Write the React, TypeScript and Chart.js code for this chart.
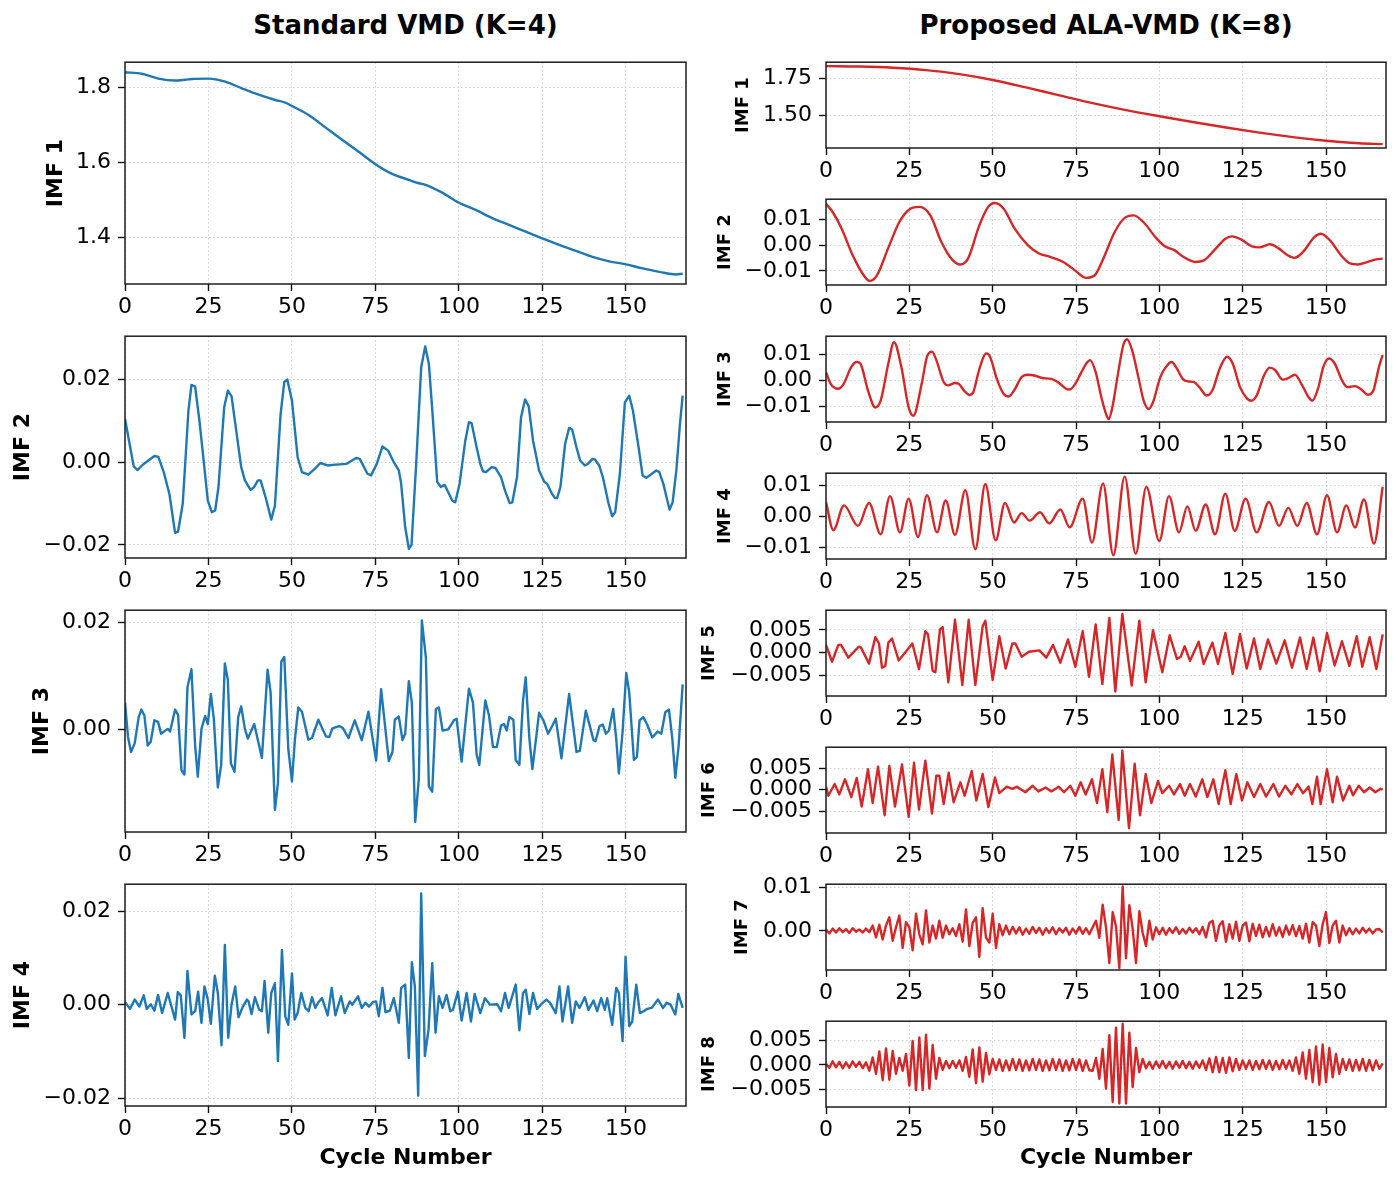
import React, { useEffect, useRef } from 'react';
import { Chart, registerables } from 'chart.js';

Chart.register(...registerables);

const FONT = "'DejaVu Sans', 'Noto Sans', sans-serif";
const BLUE = '#1f77b4';
const RED = '#d62728';

const LEFT_TITLE = 'Standard VMD (K=4)';
const RIGHT_TITLE = 'Proposed ALA-VMD (K=8)';
const X_TITLE = 'Cycle Number';

const X_TICKS = [0, 25, 50, 75, 100, 125, 150];
const X_MIN = 0;
const X_MAX = 168;

// ---------- Standard VMD (K=4) : [cycle, value] ----------
const L1: [number, number][] = [
  [0, 1.84], [5, 1.836], [10, 1.823], [15, 1.818], [18, 1.82], [20, 1.822], [25, 1.823], [30, 1.815],
  [35, 1.797], [40, 1.78], [45, 1.766], [48, 1.759], [50, 1.75], [55, 1.726], [60, 1.693], [65, 1.66],
  [70, 1.628], [75, 1.595], [80, 1.569], [85, 1.553], [88, 1.544], [90, 1.54], [95, 1.519], [100, 1.492],
  [105, 1.473], [110, 1.451], [115, 1.433], [120, 1.415], [125, 1.397], [130, 1.38], [135, 1.364],
  [140, 1.348], [145, 1.336], [150, 1.328], [155, 1.317], [160, 1.308], [165, 1.301], [167, 1.303],
];

const L2: [number, number][] = [
  [0, 0.0105], [2.6, -0.001], [3.7, -0.0019], [5.5, -0.0005], [8.8, 0.0015], [10, 0.0013], [11.6, -0.0024],
  [13.3, -0.0077], [15, -0.0171], [15.9, -0.0168], [17.3, -0.01], [19, 0.0125], [19.9, 0.0187], [21, 0.0183],
  [22.3, 0.01], [24.8, -0.0093], [26, -0.0121], [27, -0.0117], [28, -0.006], [29.7, 0.0133], [30.8, 0.0173],
  [31.9, 0.016], [34.8, -0.0012], [35.9, -0.0044], [37.6, -0.0067], [38.7, -0.006], [39.8, -0.0044],
  [40.6, -0.0044], [42.1, -0.0085], [43.8, -0.0139], [44.9, -0.0105], [46.6, 0.0117], [47.7, 0.0194],
  [48.6, 0.02], [50, 0.0149], [51.7, 0.0012], [53, -0.0024], [54.9, -0.003], [56.8, -0.0016], [58.5, -0.0002],
  [60.7, -0.0008], [63, -0.0006], [66.4, -0.0004], [69.2, 0.001], [70.3, 0.0008], [72.6, -0.0028],
  [73.7, -0.0032], [75.4, -0.0004], [77.1, 0.0038], [78.8, 0.0028], [80.5, 0.0], [82, -0.002], [82.7, -0.0052],
  [83.9, -0.0157], [85, -0.021], [85.8, -0.02], [87.2, -0.0004], [88.7, 0.023], [89.9, 0.028], [91, 0.0238],
  [92.1, 0.0117], [93.5, -0.0048], [94.6, -0.006], [95.7, -0.0055], [96.8, -0.0073], [98, -0.0093],
  [98.9, -0.0097], [100.2, -0.0052], [101.9, 0.0052], [103, 0.0097], [103.8, 0.0094], [105.3, 0.0036],
  [106.4, -0.0004], [107.2, -0.0022], [108.1, -0.0024], [109.8, -0.0012], [110.9, -0.0014], [112.6, -0.0036],
  [113.8, -0.0069], [115.2, -0.0099], [116, -0.0097], [117.4, -0.0036], [118.6, 0.0109], [119.8, 0.0152],
  [120.9, 0.0135], [122.2, 0.0052], [124, -0.002], [125.6, -0.0048], [126.4, -0.0052], [127.9, -0.0077],
  [128.8, -0.0087], [129.4, -0.0087], [130.4, -0.006], [131.8, 0.0044], [133, 0.0083], [133.9, 0.0079],
  [135.2, 0.0036], [136.3, 0.0004], [137.7, -0.0008], [138.6, -0.0004], [140, 0.0008], [140.8, 0.0006],
  [142, -0.0008], [143.1, -0.0036], [144.8, -0.01], [145.9, -0.0131], [146.8, -0.0121], [148.2, -0.0028],
  [149.7, 0.0145], [151, 0.0161], [152.1, 0.0125], [153.8, 0.0036], [155, -0.0032], [156.1, -0.0038],
  [157.8, -0.0028], [159.1, -0.002], [160, -0.0024], [161.2, -0.0052], [162.3, -0.0089], [163.1, -0.0115],
  [164, -0.0097], [165.1, -0.002], [166.2, 0.0093], [167, 0.0161],
];

const L3: [number, number][] = [
  [0, 0.005], [0.9, -0.0014], [1.8, -0.0042], [2.9, -0.0026], [4.1, 0.0023], [4.9, 0.0037], [5.8, 0.0026],
  [6.8, -0.003], [7.7, -0.0023], [8.8, 0.0017], [9.9, 0.0014], [10.8, -0.0008], [12.8, 0.0001], [13.5, -0.0004],
  [15, 0.0037], [15.9, 0.0027], [16.9, -0.0076], [17.8, -0.0084], [18.7, 0.0078], [19.9, 0.0112], [21, -0.003],
  [21.8, -0.0088], [22.9, 0.0001], [24, 0.0025], [24.8, 0.001], [25.7, 0.0066], [26.6, 0.002], [27.8, -0.0108],
  [28.8, -0.0066], [29.9, 0.0123], [30.8, 0.0092], [31.7, -0.0063], [32.8, -0.0079], [33.9, 0.0023],
  [34.8, 0.0043], [35.9, 0.0001], [36.8, -0.0017], [38.7, 0.001], [39.8, -0.002], [41, -0.0053], [42.7, 0.0111],
  [43.6, 0.0069], [44.9, -0.015], [45.8, -0.01], [46.8, 0.0126], [47.7, 0.0135], [48.9, -0.0036], [50, -0.0097],
  [50.9, -0.0017], [51.9, 0.0041], [53, 0.0033], [54.9, -0.0019], [56, -0.0016], [57.9, 0.0018], [60.2, -0.0013],
  [61.2, -0.0014], [62.1, 0.0002], [64.1, 0.0006], [65.2, 0.0003], [66.9, -0.0016], [68.8, 0.0017],
  [70.9, -0.002], [72.9, 0.0033], [75.2, -0.0058], [76.7, 0.0075], [79, -0.0059], [80.1, -0.0042],
  [80.8, 0.0018], [82, 0.0024], [83.1, -0.002], [83.9, -0.0008], [85, 0.009], [85.9, 0.005], [86.9, -0.0172],
  [88, -0.0091], [88.9, 0.0203], [90.1, 0.0134], [91, -0.0106], [92, -0.0116], [93.1, 0.0038], [94, 0.0041],
  [95.1, -0.0002], [96.8, 0.0], [98.5, 0.0017], [99.3, 0.002], [100.8, -0.006], [103, 0.0076], [104.2, 0.005],
  [105.3, -0.0047], [106.1, -0.0066], [107.9, 0.0054], [109, 0.0026], [110.2, -0.0033], [111.3, -0.0033],
  [112.6, 0.0007], [113.5, 0.001], [114.3, -0.0002], [115.1, 0.0023], [116.3, 0.0018], [117, -0.0057],
  [118.1, -0.0066], [119.2, 0.0054], [120, 0.0097], [121.1, -0.0017], [122, -0.0074], [124, 0.0031],
  [125.3, 0.0017], [126.7, -0.0008], [127.9, 0.0006], [129, 0.002], [130.7, -0.0054], [133, 0.0066],
  [135.2, -0.0042], [136.2, -0.004], [138, 0.0035], [140.3, -0.002], [140.9, -0.0022], [142.1, 0.0006],
  [143.1, 0.0009], [144, -0.0008], [144.9, -0.0002], [146.2, 0.0038], [147.1, -0.0017], [147.9, -0.0082],
  [149, -0.0005], [150.1, 0.0105], [151, 0.0069], [152.4, -0.0057], [153.3, -0.0051], [154.1, 0.0017],
  [155.2, 0.0023], [156.3, 0.001], [157.9, -0.0015], [159.5, -0.0004], [160.6, -0.0008], [161.8, 0.0032],
  [162.9, 0.0037], [163.9, -0.0017], [164.8, -0.009], [165.8, -0.003], [167, 0.0084],
];

const L4: [number, number][] = [
  [0, 0.0006], [1.5, -0.0009], [2.9, 0.0011], [4.3, -0.0004], [5.6, 0.002], [6.5, -0.0009], [7.7, 0.0001],
  [8.8, -0.0013], [9.9, 0.0021], [11.1, -0.0018], [12.8, 0.0025], [15, -0.0032], [15.8, 0.0027], [16.7, 0.002],
  [17.8, -0.0071], [18.7, 0.0072], [19.9, -0.0021], [21, -0.0014], [21.9, 0.0028], [22.9, -0.0039],
  [23.8, 0.0039], [24.8, 0.0011], [25.7, -0.0041], [26.9, 0.0062], [27.8, 0.0025], [28.9, -0.0087],
  [29.9, 0.0128], [30.9, -0.0071], [31.9, 0.0], [33, 0.0039], [34, -0.0027], [35.3, -0.0004], [36.5, 0.0011],
  [37, 0.0007], [37.9, -0.002], [38.9, 0.0016], [40.2, -0.0011], [41, -0.0014], [41.8, 0.0051], [42.9, -0.006],
  [43.8, 0.0025], [44.9, 0.0046], [45.8, -0.0121], [47, 0.0117], [48, -0.0025], [48.9, -0.0043], [50, 0.0067],
  [50.8, -0.0032], [51.7, -0.0018], [52.8, 0.0025], [54, -0.0007], [55, -0.0014], [56, 0.0016], [57, -0.0007],
  [57.8, 0.0004], [59, 0.0014], [60.7, -0.0023], [61.9, 0.0036], [63, -0.0023], [64.7, 0.0018],
  [65.8, -0.0018], [67.3, 0.0007], [68.1, 0.0], [69.8, 0.0018], [70.9, -0.0007], [72, 0.0004], [73.1, -0.0004],
  [74.3, 0.0006], [75.2, 0.0007], [76, -0.0025], [77.1, 0.0036], [78, -0.0016], [79.3, -0.0013], [80.5, 0.0014],
  [82, -0.0039], [82.7, 0.0036], [83.9, 0.0043], [85, -0.0114], [85.9, 0.0091], [86.8, 0.0039],
  [87.8, -0.0195], [88.7, 0.0238], [89.8, -0.011], [90.9, -0.0053], [92, 0.0089], [93, -0.006], [94, 0.0018],
  [95.1, -0.0007], [96.3, 0.0021], [97.4, -0.0014], [98.2, -0.0011], [99.7, 0.0028], [100.8, -0.0034],
  [102.3, 0.0025], [103.6, -0.0036], [104.7, 0.0023], [106.4, -0.0018], [107.8, 0.0014], [109.3, 0.0],
  [111.5, 0.0001], [112.6, -0.0014], [113.8, 0.0025], [114.9, -0.0007], [117, 0.0043], [118.1, -0.0055],
  [119.2, 0.0025], [120, 0.0032], [121.1, -0.002], [122.2, 0.0025], [123.4, -0.0009], [124.5, 0.0],
  [126.2, 0.0011], [127.3, 0.0004], [129, -0.0018], [130.1, 0.0039], [131, -0.0036], [132.7, 0.0039],
  [133.9, -0.0039], [135, 0.0007], [136.1, -0.0007], [137.7, 0.0016], [138.8, -0.0011], [140.3, 0.0009],
  [141.4, -0.0014], [142.6, 0.0014], [143.7, -0.0011], [144.4, 0.0014], [145.9, -0.0043], [147.1, 0.0036],
  [147.9, 0.0025], [149, -0.0078], [149.9, 0.0103], [151, -0.0046], [151.9, -0.0036], [153.1, 0.0043],
  [154.2, -0.0018], [155.3, -0.0014], [156.4, -0.0009], [157.7, -0.0007], [159.6, 0.0011], [161.1, -0.0007],
  [162.2, 0.0004], [163.4, 0.0], [164.8, -0.0021], [165.7, 0.0023], [167, -0.0007],
];

// ---------- Proposed ALA-VMD (K=8) : [cycle, value] ----------
const R1: [number, number][] = [
  [0, 1.833], [10, 1.83], [20, 1.822], [30, 1.806], [40, 1.779], [50, 1.74], [60, 1.69], [70, 1.637],
  [80, 1.585], [90, 1.538], [100, 1.497], [110, 1.458], [120, 1.421], [130, 1.387], [140, 1.357],
  [150, 1.333], [160, 1.316], [167, 1.31],
];

const R2: [number, number][] = [
  [0, 0.0162], [2, 0.013], [4.7, 0.0065], [8, -0.0039], [11.3, -0.0117], [13, -0.0139], [15.3, -0.0117],
  [18.6, -0.0013], [22, 0.0091], [25.3, 0.0143], [28, 0.015], [31.3, 0.0117], [34.6, 0.0013], [38, -0.0058],
  [40.3, -0.0075], [42.6, -0.0052], [46, 0.0078], [48.6, 0.0149], [50.6, 0.0165], [53.3, 0.0143],
  [56.6, 0.0065], [60.6, 0.0], [63.9, -0.0032], [67.2, -0.0045], [71.2, -0.0065], [74.6, -0.0097],
  [77.9, -0.0127], [80.6, -0.0117], [83.2, -0.0052], [86.6, 0.0052], [89.9, 0.011], [92.3, 0.0117],
  [95.2, 0.0091], [99.2, 0.0026], [101.9, -0.0006], [104.5, -0.0019], [107.2, -0.0045], [110.8, -0.0065],
  [113.2, -0.006], [116.5, -0.0019], [119.8, 0.0026], [121.8, 0.0035], [124.5, 0.0023], [127.8, -0.0004],
  [130, -0.0008], [133.2, 0.0004], [135.9, -0.0013], [138.5, -0.0039], [140.5, -0.0049], [143.1, -0.0026],
  [146.5, 0.0032], [148.5, 0.0045], [151.2, 0.0019], [154.5, -0.0039], [157.2, -0.0071], [159.6, -0.0075],
  [162.5, -0.0065], [165.1, -0.0055], [167, -0.0052],
];

const R3: [number, number][] = [
  [0, 0.0032], [1.4, -0.0013], [3.7, -0.0032], [5.3, -0.0013], [7.6, 0.0052], [9.2, 0.0071], [10.3, 0.0065],
  [12.6, -0.0039], [14.8, -0.0104], [16.4, -0.0078], [18.7, 0.0065], [20.4, 0.0147], [22.6, 0.0052],
  [24.8, -0.0104], [26.2, -0.0136], [28.7, -0.0013], [30.3, 0.0091], [31.8, 0.011], [33.1, 0.0078],
  [35.3, -0.0006], [36.7, -0.0019], [38.7, -0.001], [39.8, -0.0013], [41.4, -0.0039], [43.1, -0.0056],
  [44.2, -0.0045], [45.9, 0.0039], [48.1, 0.0104], [49.2, 0.0091], [51.4, 0.0], [53.3, -0.0052],
  [54.8, -0.0062], [56.4, -0.0039], [58.7, 0.0013], [60.3, 0.0022], [62.6, 0.0019], [64.8, 0.0009],
  [67.6, 0.0006], [69.8, -0.0009], [72, -0.0032], [73.1, -0.0035], [74.8, -0.0013], [76.4, 0.0026],
  [78.1, 0.0065], [79.2, 0.0078], [80.9, 0.0032], [82.6, -0.0065], [84.2, -0.0136], [84.8, -0.0149],
  [85.9, -0.0104], [87.6, 0.0026], [89.2, 0.0136], [90.3, 0.0158], [91.8, 0.0117], [93.7, 0.0013],
  [95.3, -0.0078], [96.8, -0.011], [98.1, -0.0084], [100.3, 0.0013], [102, 0.0052], [103.7, 0.0071],
  [105.3, 0.0045], [107, 0.0006], [108.7, -0.0004], [110.3, -0.0006], [112, -0.0026], [114.2, -0.0058],
  [115.9, -0.0039], [118.1, 0.0045], [120.3, 0.0091], [122, 0.0065], [124.2, -0.0026], [126.4, -0.0071],
  [127.6, -0.0078], [129.2, -0.0058], [131.4, 0.0019], [133.1, 0.0049], [134.8, 0.0039], [137, 0.0003],
  [138.7, 0.0009], [140.7, 0.0022], [142.6, -0.0013], [144.8, -0.0065], [145.9, -0.0078], [147.6, -0.0032],
  [149.2, 0.0052], [150.9, 0.0084], [152.6, 0.0065], [154.8, 0.0], [156.4, -0.0026], [158.7, -0.0022],
  [160.3, -0.0032], [162.6, -0.0055], [164.2, -0.0039], [165.9, 0.0052], [167, 0.0097],
];

const R4: [number, number][] = [
  [0, 0.0047], [2.2, -0.0044], [5.4, 0.0036], [9.6, -0.003], [12.9, 0.0044], [16.4, -0.0057], [19.2, 0.0066],
  [22.2, -0.0051], [24.8, 0.0058], [27.6, -0.0066], [30.3, 0.0069], [33.3, -0.0051], [35.9, 0.0052],
  [38.7, -0.0059], [41.8, 0.0085], [44.8, -0.0106], [47.8, 0.0105], [50.9, -0.0077], [53.7, 0.0044],
  [56.4, -0.0019], [58.7, 0.0011], [61.1, -0.0013], [64.2, 0.0014], [67, -0.0022], [70.3, 0.0023],
  [73.1, -0.0035], [77, 0.0058], [79.8, -0.0084], [83.1, 0.0107], [86.2, -0.0125], [89.6, 0.0129],
  [92.9, -0.012], [96.1, 0.0096], [100, -0.0079], [102.9, 0.0066], [105.9, -0.0051], [108.4, 0.0033],
  [110.9, -0.0046], [113.9, 0.0039], [116.7, -0.0057], [119.8, 0.0074], [122.6, -0.0046], [125.9, 0.0058],
  [129.2, -0.0051], [132.9, 0.0047], [135.9, -0.003], [138.7, 0.0028], [141.4, -0.003], [144.2, 0.0044],
  [147.3, -0.0057], [150.3, 0.0069], [153.3, -0.0051], [156.1, 0.0036], [158.7, -0.0035], [161.4, 0.0055],
  [164.4, -0.0087], [167, 0.0096],
];

const R5: [number, number][] = [
  [0, 0.0017], [1.8, -0.002], [3.7, 0.0017], [4.5, 0.0017], [6.7, -0.0011], [9.8, 0.0013], [10.5, 0.0011],
  [12.9, -0.0024], [14.8, 0.0034], [15.9, 0.002], [16.8, -0.0033], [17.8, -0.0029], [18.7, 0.0022],
  [19.8, 0.0031], [21.8, -0.0017], [23.7, 0.0], [25.9, 0.002], [27.9, -0.0036], [29.8, 0.0047], [30.6, 0.004],
  [32, -0.004], [32.8, -0.0043], [34.2, 0.0051], [35, 0.0056], [36.7, -0.0065], [38.7, 0.0072], [40.9, -0.0071],
  [42.8, 0.0072], [44.8, -0.0071], [47, 0.0058], [47.8, 0.007], [50, -0.006], [52, 0.0036], [53.9, -0.0035],
  [55.9, 0.002], [56.8, 0.002], [58.7, -0.0009], [60.9, 0.0002], [64, 0.0005], [66.1, -0.0011], [68.1, 0.0017],
  [70.3, -0.0022], [72.6, 0.0029], [74.8, -0.0031], [77, 0.0047], [78.9, -0.0053], [80.9, 0.0062],
  [82.9, -0.0069], [85, 0.0076], [86.8, -0.0085], [88.9, 0.0085], [91.7, -0.0072], [94, 0.007],
  [95.9, -0.0065], [98.1, 0.0049], [100.9, -0.0043], [103.1, 0.0038], [105.3, -0.0014], [106.4, -0.0009],
  [107.6, 0.0014], [109.2, -0.0018], [111.8, 0.0024], [113.3, -0.0025], [115.9, 0.0022], [117.6, -0.0025],
  [119.8, 0.0043], [122, -0.0047], [124.2, 0.0041], [126.2, -0.0035], [128.4, 0.0031], [130.3, -0.0036],
  [132.6, 0.0029], [135.1, -0.0024], [137.6, 0.0027], [139.8, -0.0033], [142.2, 0.0033], [144.2, -0.0036],
  [146.2, 0.0033], [148.1, -0.0041], [150.3, 0.0043], [152.6, -0.0028], [154.8, 0.0025], [157, -0.0029],
  [159.2, 0.0036], [160.9, -0.0031], [163.1, 0.0034], [165.1, -0.0036], [167, 0.004],
];

const R6: [number, number][] = [
  [0, 0.0007], [0.7, -0.0014], [2.6, 0.0013], [4, -0.0011], [5.7, 0.0024], [7.6, -0.0017], [9.2, 0.0027],
  [10.7, -0.0039], [12.6, 0.0047], [14, -0.0031], [15.6, 0.0053], [17.6, -0.0059], [19, 0.0055],
  [20.7, -0.0039], [22.8, 0.0058], [24.8, -0.0063], [26.4, 0.0062], [27.9, -0.0046], [29.8, 0.0067],
  [31.8, -0.0055], [33.1, 0.0032], [34, 0.0032], [35.3, -0.0033], [36.8, 0.0039], [38.3, -0.0029],
  [40.3, 0.0017], [41.6, -0.0014], [43.7, 0.0043], [45.1, -0.0025], [47, 0.0036], [48.7, -0.004],
  [50.7, 0.0028], [52, -0.0008], [54.2, 0.0007], [55.9, 0.0002], [57.3, 0.0007], [59.8, -0.0006],
  [62, 0.0009], [63.7, -0.0004], [65.9, 0.0005], [67.6, -0.0004], [69.8, 0.0007], [71.4, -0.0006],
  [73.3, 0.0009], [74.8, -0.0014], [76.4, 0.0017], [77.9, -0.0011], [79.8, 0.0024], [81.3, -0.0031],
  [82.9, 0.0047], [84.4, -0.0052], [85.9, 0.0081], [87.8, -0.007], [88.9, 0.009], [90.9, -0.0089],
  [92.6, 0.006], [94.2, -0.0059], [95.9, 0.0036], [97.6, -0.0031], [99.6, 0.002], [100.9, -0.0008],
  [102.9, 0.0009], [104.4, -0.0011], [106.2, 0.0013], [107.6, -0.0014], [109.2, 0.0013], [110.9, -0.0016],
  [112.9, 0.0024], [114.4, -0.0017], [116.2, 0.0024], [117.8, -0.0033], [119.8, 0.0045], [121.4, -0.0033],
  [123.1, 0.0036], [124.8, -0.0025], [126.4, 0.0017], [128.4, -0.0017], [130.3, 0.0013], [132, -0.0016],
  [134.2, 0.0013], [135.9, -0.0016], [137.8, 0.0009], [139.6, -0.0011], [141.4, 0.0013], [143.1, -0.0008],
  [144.8, 0.0007], [145.9, -0.0033], [147.3, 0.003], [148.4, -0.0033], [150.3, 0.0047], [152, -0.0029],
  [153.3, 0.003], [155.1, -0.0025], [157, 0.0009], [158.1, -0.0013], [159.8, 0.0009], [161.4, -0.0006],
  [163.1, 0.0005], [164.8, -0.0006], [166.4, 0.0002], [167, 0.0],
];

// one value per cycle (0..167)
const R7_VALUES = [
  0.0003, -0.0006, 0.0005, -0.0004, 0.0006, -0.0003, 0.0004, -0.0005, 0.0006, -0.0002,
  0.0003, -0.0004, 0.0005, -0.0003, 0.0012, -0.0015, 0.0014, -0.002, 0.0012, 0.0031,
  -0.0023, 0.0008, 0.0035, -0.0039, 0.002, 0.0008, -0.0045, 0.0039, -0.0008, -0.0031,
  0.0047, -0.0027, 0.0012, -0.0018, 0.0023, -0.0016, 0.0012, -0.0008, 0.0006, -0.0012,
  0.0015, -0.0025, 0.0049, -0.0035, 0.0018, 0.0031, -0.006, 0.0052, -0.0015, -0.0027,
  0.0039, -0.0039, 0.0015, -0.001, 0.0012, -0.0008, 0.0009, -0.0006, 0.0008, -0.0009,
  0.0005, -0.0007, 0.0009, -0.0005, 0.0007, -0.0009, 0.0006, -0.0005, 0.0008, -0.0008,
  0.0006, -0.0004, 0.0007, -0.0009, 0.0005, -0.0006, 0.0009, -0.0007, 0.0006, -0.0008,
  0.0008, 0.0023, -0.0016, 0.006, 0.0008, -0.0074, 0.0043, 0.001, -0.0086, 0.0102,
  -0.0063, 0.0059, 0.0005, -0.0074, 0.0045, -0.0005, -0.0035, 0.0023, -0.002, 0.0008,
  -0.0008, 0.0007, -0.0009, 0.0006, -0.0005, 0.0008, -0.0007, 0.0004, -0.0006, 0.0007,
  -0.0004, 0.0006, -0.0008, 0.0009, -0.0015, 0.0018, 0.0023, -0.0023, 0.0012, 0.0022,
  -0.0025, 0.0015, -0.0018, 0.0021, -0.0023, 0.0012, 0.0019, -0.0024, 0.0016, -0.0012,
  0.0014, -0.0015, 0.0009, -0.0013, 0.0015, -0.0011, 0.0008, -0.0014, 0.0012, -0.0009,
  0.0013, -0.0012, 0.0011, -0.0018, 0.0016, -0.0027, 0.002, 0.0012, -0.0035, 0.0015,
  0.0043, -0.0028, 0.0012, 0.0023, -0.0027, 0.0012, -0.001, 0.0006, -0.0008, 0.0005,
  -0.0006, 0.0007, -0.0004, 0.0005, -0.0006, 0.0003, 0.0004, -0.0004,
];

const R8_VALUES = [
  0.0002, -0.0006, 0.0007, -0.0005, 0.0006, -0.0007, 0.0005, -0.0006, 0.0007, -0.0004,
  0.0006, -0.0007, 0.0005, -0.0012, 0.0015, -0.0018, 0.0027, -0.0031, 0.0033, -0.003,
  0.0028, -0.0018, 0.0014, -0.0012, 0.0022, -0.0042, 0.0048, -0.0051, 0.0055, -0.0051,
  0.0061, -0.0048, 0.004, -0.0028, 0.0014, -0.001, 0.0008, -0.0007, 0.0008, -0.0006,
  0.0009, -0.0012, 0.0016, -0.0024, 0.0031, -0.0037, 0.0035, -0.0034, 0.0024, -0.0019,
  0.0012, -0.001, 0.0011, -0.0012, 0.0009, -0.0011, 0.0012, -0.001, 0.0011, -0.0012,
  0.0009, -0.0011, 0.0012, -0.001, 0.0011, -0.0012, 0.0009, -0.0011, 0.0012, -0.001,
  0.0011, -0.0012, 0.0009, -0.0011, 0.0012, -0.001, 0.0011, -0.0012, 0.0009, -0.0011,
  -0.0012, 0.0014, -0.0028, 0.0032, -0.0048, 0.006, -0.0075, 0.0075, -0.0078, 0.0083,
  -0.0078, 0.0065, -0.0045, 0.0034, -0.0015, 0.0012, -0.0007, 0.0006, -0.0008, 0.0007,
  -0.0006, 0.0008, -0.0007, 0.0006, -0.0008, 0.0007, -0.0006, 0.0008, -0.0007, 0.0006,
  -0.0008, 0.0007, -0.0006, 0.0009, -0.001, 0.0013, -0.0015, 0.0016, -0.0015, 0.0014,
  -0.0016, 0.0015, -0.0013, 0.0012, -0.001, 0.0009, -0.0008, 0.0009, -0.001, 0.0008,
  -0.0009, 0.001, -0.0008, 0.0009, -0.001, 0.0008, -0.0009, 0.001, -0.0008, 0.0009,
  -0.0012, 0.0015, -0.0018, 0.0025, -0.0028, 0.003, -0.0035, 0.0037, -0.004, 0.0041,
  -0.0035, 0.0034, -0.0025, 0.0022, -0.0018, 0.0012, -0.001, 0.0011, -0.0012, 0.001,
  -0.0011, 0.0012, -0.0012, 0.001, -0.0011, 0.0009, -0.0008, 0.0003,
];

// y tick values per panel
const L1_TICKS = [1.4, 1.6, 1.8];
const L2_TICKS = [-0.02, 0, 0.02];
const L3_TICKS = [0, 0.02];
const L4_TICKS = [-0.02, 0, 0.02];
const R1_TICKS = [1.5, 1.75];
const R2_TICKS = [-0.01, 0, 0.01];
const R3_TICKS = [-0.01, 0, 0.01];
const R4_TICKS = [-0.01, 0, 0.01];
const R5_TICKS = [-0.005, 0, 0.005];
const R6_TICKS = [-0.005, 0, 0.005];
const R7_TICKS = [0, 0.01];
const R8_TICKS = [-0.005, 0, 0.005];

type Pt = { x: number; y: number };
const fromPairs = (a: [number, number][]): Pt[] => a.map(([x, y]) => ({ x, y }));
const fromValues = (a: number[]): Pt[] => a.map((y, i) => ({ x: i, y }));

type Spec = {
  key: string;
  pts: Pt[];
  color: string;
  smooth: boolean;
  yMin: number;
  yMax: number;
  yTicks: number[];
  dec: number;
  label: string;
  labelX: number;
  labelSize: number;
  left: number;
  right: number;
  top: number;
  bottom: number;
  xTitle: boolean;
};

const LX0 = 125, LX1 = 686, RX0 = 826, RX1 = 1386;
const LEFT_LABEL_SIZE = 22;
const RIGHT_LABEL_SIZE = 18;

const SPECS: Spec[] = [
  { key: 'L1', pts: fromPairs(L1), color: BLUE, smooth: true, yMin: 1.2755, yMax: 1.8667, yTicks: L1_TICKS, dec: 1, label: 'IMF 1', labelX: 56, labelSize: LEFT_LABEL_SIZE, left: LX0, right: LX1, top: 62, bottom: 284, xTitle: false },
  { key: 'L2', pts: fromPairs(L2), color: BLUE, smooth: false, yMin: -0.0232, yMax: 0.0305, yTicks: L2_TICKS, dec: 2, label: 'IMF 2', labelX: 23, labelSize: LEFT_LABEL_SIZE, left: LX0, right: LX1, top: 336, bottom: 558, xTitle: false },
  { key: 'L3', pts: fromPairs(L3), color: BLUE, smooth: false, yMin: -0.0191, yMax: 0.0222, yTicks: L3_TICKS, dec: 2, label: 'IMF 3', labelX: 42, labelSize: LEFT_LABEL_SIZE, left: LX0, right: LX1, top: 610, bottom: 832, xTitle: false },
  { key: 'L4', pts: fromPairs(L4), color: BLUE, smooth: false, yMin: -0.0217, yMax: 0.0258, yTicks: L4_TICKS, dec: 2, label: 'IMF 4', labelX: 23, labelSize: LEFT_LABEL_SIZE, left: LX0, right: LX1, top: 884, bottom: 1106, xTitle: true },
  { key: 'R1', pts: fromPairs(R1), color: RED, smooth: true, yMin: 1.284, yMax: 1.859, yTicks: R1_TICKS, dec: 2, label: 'IMF 1', labelX: 744, labelSize: RIGHT_LABEL_SIZE, left: RX0, right: RX1, top: 62, bottom: 148, xTitle: false },
  { key: 'R2', pts: fromPairs(R2), color: RED, smooth: true, yMin: -0.0155, yMax: 0.018, yTicks: R2_TICKS, dec: 2, label: 'IMF 2', labelX: 726, labelSize: RIGHT_LABEL_SIZE, left: RX0, right: RX1, top: 199, bottom: 285, xTitle: false },
  { key: 'R3', pts: fromPairs(R3), color: RED, smooth: true, yMin: -0.016, yMax: 0.017, yTicks: R3_TICKS, dec: 2, label: 'IMF 3', labelX: 726, labelSize: RIGHT_LABEL_SIZE, left: RX0, right: RX1, top: 336, bottom: 422, xTitle: false },
  { key: 'R4', pts: fromPairs(R4), color: RED, smooth: true, yMin: -0.0137, yMax: 0.014, yTicks: R4_TICKS, dec: 2, label: 'IMF 4', labelX: 726, labelSize: RIGHT_LABEL_SIZE, left: RX0, right: RX1, top: 473, bottom: 559, xTitle: false },
  { key: 'R5', pts: fromPairs(R5), color: RED, smooth: false, yMin: -0.0095, yMax: 0.0093, yTicks: R5_TICKS, dec: 3, label: 'IMF 5', labelX: 710, labelSize: RIGHT_LABEL_SIZE, left: RX0, right: RX1, top: 610, bottom: 696, xTitle: false },
  { key: 'R6', pts: fromPairs(R6), color: RED, smooth: false, yMin: -0.01, yMax: 0.0098, yTicks: R6_TICKS, dec: 3, label: 'IMF 6', labelX: 710, labelSize: RIGHT_LABEL_SIZE, left: RX0, right: RX1, top: 747, bottom: 833, xTitle: false },
  { key: 'R7', pts: fromValues(R7_VALUES), color: RED, smooth: false, yMin: -0.009, yMax: 0.0107, yTicks: R7_TICKS, dec: 2, label: 'IMF 7', labelX: 743, labelSize: RIGHT_LABEL_SIZE, left: RX0, right: RX1, top: 884, bottom: 970, xTitle: false },
  { key: 'R8', pts: fromValues(R8_VALUES), color: RED, smooth: false, yMin: -0.0085, yMax: 0.0088, yTicks: R8_TICKS, dec: 3, label: 'IMF 8', labelX: 710, labelSize: RIGHT_LABEL_SIZE, left: RX0, right: RX1, top: 1021, bottom: 1107, xTitle: true },
];

const TICK_SIZE = 22;
const X_LABEL_SIZE = 22;
const PAD_T = 20;
const PAD_R = 14;
const X_TITLE_Y = 1158;

const fmt = (v: number, dec: number) => {
  const s = Math.abs(v).toFixed(dec);
  return v < -1e-12 ? '\u2212' + s : s;
};

const framePlugin = {
  id: 'frame',
  afterDraw(chart: any) {
    const { ctx, chartArea } = chart;
    const { left, top, right, bottom } = chartArea;
    ctx.save();
    ctx.strokeStyle = '#1e1e1e';
    ctx.lineWidth = 1.5;
    ctx.strokeRect(left, top, right - left, bottom - top);
    ctx.restore();
  },
};

function Panel({ spec }: { spec: Spec }) {
  const ref = useRef<HTMLCanvasElement | null>(null);
  const lineH = spec.labelSize * 1.2;
  const canvasLeft = Math.round(spec.labelX - lineH / 2);
  const padL = spec.left - canvasLeft;
  const plotW = spec.right - spec.left;
  const plotH = spec.bottom - spec.top;
  const padB = spec.xTitle ? Math.round(X_TITLE_Y + (X_LABEL_SIZE * 1.2) / 2 - spec.bottom) : 44;
  const width = padL + plotW + PAD_R;
  const height = PAD_T + plotH + padB;

  useEffect(() => {
    if (!ref.current) return;
    const gridCommon = {
      color: '#d0d0d0',
      lineWidth: 1,
      drawTicks: true,
      tickLength: 7,
      tickColor: '#111',
      tickWidth: 1.4,
      tickBorderDash: [],
    };
    const chart = new Chart(ref.current, {
      type: 'line',
      data: {
        datasets: [
          {
            data: spec.pts,
            borderColor: spec.color,
            borderWidth: 2.4,
            pointRadius: 0,
            fill: false,
            borderJoinStyle: 'round',
            tension: 0,
            cubicInterpolationMode: spec.smooth ? 'monotone' : 'default',
          } as any,
        ],
      },
      options: {
        animation: false,
        responsive: false,
        maintainAspectRatio: false,
        events: [],
        layout: { padding: { top: PAD_T, right: PAD_R, left: 0, bottom: 0 } },
        plugins: { legend: { display: false }, tooltip: { enabled: false }, title: { display: false } },
        scales: {
          x: {
            type: 'linear',
            min: X_MIN,
            max: X_MAX,
            afterBuildTicks: (s: any) => {
              s.ticks = X_TICKS.map((v) => ({ value: v }));
            },
            afterFit: (s: any) => {
              s.height = padB;
            },
            ticks: {
              font: { family: FONT, size: TICK_SIZE },
              color: '#000',
              padding: 3,
              maxRotation: 0,
              autoSkip: false,
              callback: (v: any) => String(v),
            },
            grid: gridCommon,
            border: { display: false, dash: [1.5, 2.5] },
            title: {
              display: spec.xTitle,
              text: X_TITLE,
              font: { family: FONT, size: X_LABEL_SIZE, weight: 'bold' },
              color: '#000',
              padding: 0,
            },
          },
          y: {
            type: 'linear',
            min: spec.yMin,
            max: spec.yMax,
            afterBuildTicks: (s: any) => {
              s.ticks = spec.yTicks.map((v) => ({ value: v }));
            },
            afterFit: (s: any) => {
              s.width = padL;
            },
            ticks: {
              font: { family: FONT, size: TICK_SIZE },
              color: '#000',
              padding: 7,
              autoSkip: false,
              callback: (v: any) => fmt(Number(v), spec.dec),
            },
            grid: gridCommon,
            border: { display: false, dash: [1.5, 2.5] },
            title: {
              display: true,
              text: spec.label,
              font: { family: FONT, size: spec.labelSize, weight: 'bold' },
              color: '#000',
              padding: 0,
            },
          },
        },
      } as any,
      plugins: [framePlugin],
    });
    return () => chart.destroy();
  }, [spec, padB, padL]);

  return (
    <canvas
      ref={ref}
      width={width}
      height={height}
      style={{ position: 'absolute', left: canvasLeft, top: spec.top - PAD_T, width, height }}
    />
  );
}

export default function App() {
  const titleStyle: React.CSSProperties = {
    position: 'absolute',
    top: 8,
    textAlign: 'center',
    fontFamily: FONT,
    fontWeight: 'bold',
    fontSize: 26,
    lineHeight: '34px',
    color: '#000',
    whiteSpace: 'nowrap',
  };
  return (
    <div style={{ position: 'absolute', left: 0, top: 0, width: 1400, height: 1184, background: '#fff', overflow: 'hidden' }}>
      <div style={{ ...titleStyle, left: LX0, width: LX1 - LX0 }}>{LEFT_TITLE}</div>
      <div style={{ ...titleStyle, left: RX0, width: RX1 - RX0 }}>{RIGHT_TITLE}</div>
      {SPECS.map((s) => (
        <Panel key={s.key} spec={s} />
      ))}
    </div>
  );
}
